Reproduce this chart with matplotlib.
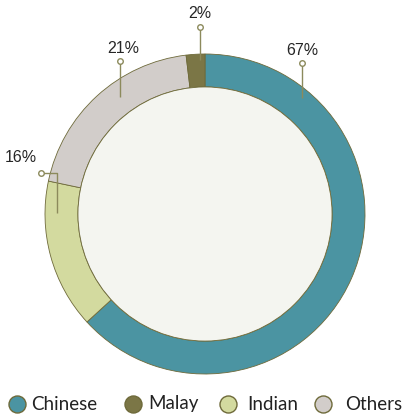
import numpy as np
import matplotlib
matplotlib.use('Agg')
import matplotlib.pyplot as plt

# ethnic composition, drawn clockwise from 12 o'clock
groups = ["Chinese", "Indian", "Others", "Malay"]
shares = [67, 16, 21, 2]
colors = {"Chinese": "#4b94a2", "Malay": "#7b7646", "Indian": "#d3da9f", "Others": "#d2cdca"}
legend_order = ["Chinese", "Malay", "Indian", "Others"]

edge = "#6e6a3a"
lead = "#8c8a5c"
inner_fill = "#f4f5f0"

# leader lines: (label, points of the line from ring to marker, text position)
leaders = {
    "Chinese": ([(0.606, 0.725), (0.606, 0.944)], (0.606, 1.02)),
    "Malay": ([(-0.031, 0.96), (-0.031, 1.169)], (-0.031, 1.25)),
    "Others": ([(-0.53, 0.73), (-0.53, 0.956)], (-0.51, 1.035)),
    "Indian": ([(-0.925, 0.006), (-0.925, 0.256), (-1.025, 0.256)], (-1.15, 0.355)),
}

fig = plt.figure(figsize=(4.03, 4.18), dpi=100, facecolor="white")
ax = fig.add_axes([0, 0, 1, 1])
ax.axis("off")

wedges, _ = ax.pie(shares, colors=[colors[g] for g in groups], startangle=90,
                   counterclock=False, radius=1.0,
                   wedgeprops=dict(width=0.206, edgecolor=edge, linewidth=0.6))
ax.add_patch(plt.Circle((0, 0), 0.794, facecolor=inner_fill, edgecolor=edge, linewidth=0.6, zorder=3))
ax.set_xlim(-205 / 160, 198 / 160)
ax.set_ylim(-204 / 160, 214 / 160)

for g, v in zip(groups, shares):
    pts, txt = leaders[g]
    xs = [p[0] for p in pts]
    ys = [p[1] for p in pts]
    ax.plot(xs, ys, color=lead, lw=1.0, zorder=4, solid_capstyle="butt")
    ax.plot(xs[-1], ys[-1], marker="o", ms=4, mfc="white", mec=lead, mew=1.0, zorder=5)
    ax.text(txt[0], txt[1], f"{v}%", ha="center", va="center", fontsize=11.5,
            family="Liberation Sans", color="#262626", zorder=5)

# legend along the bottom
leg_y = -190 / 160
leg_marker_x = [-188 / 160, -72 / 160, 23 / 160, 118 / 160]
leg_text_x = [-174 / 160, -57 / 160, 42 / 160, 140 / 160]
for g, mx, tx in zip(legend_order, leg_marker_x, leg_text_x):
    ax.scatter([mx], [leg_y], s=150, color=colors[g], edgecolors=edge, linewidths=1.0, clip_on=False, zorder=5)
    ax.text(tx, leg_y, g, ha="left", va="center", fontsize=13.5, family="Lato", color="#222222")

fig.savefig("out.png", dpi=100, facecolor="white")
